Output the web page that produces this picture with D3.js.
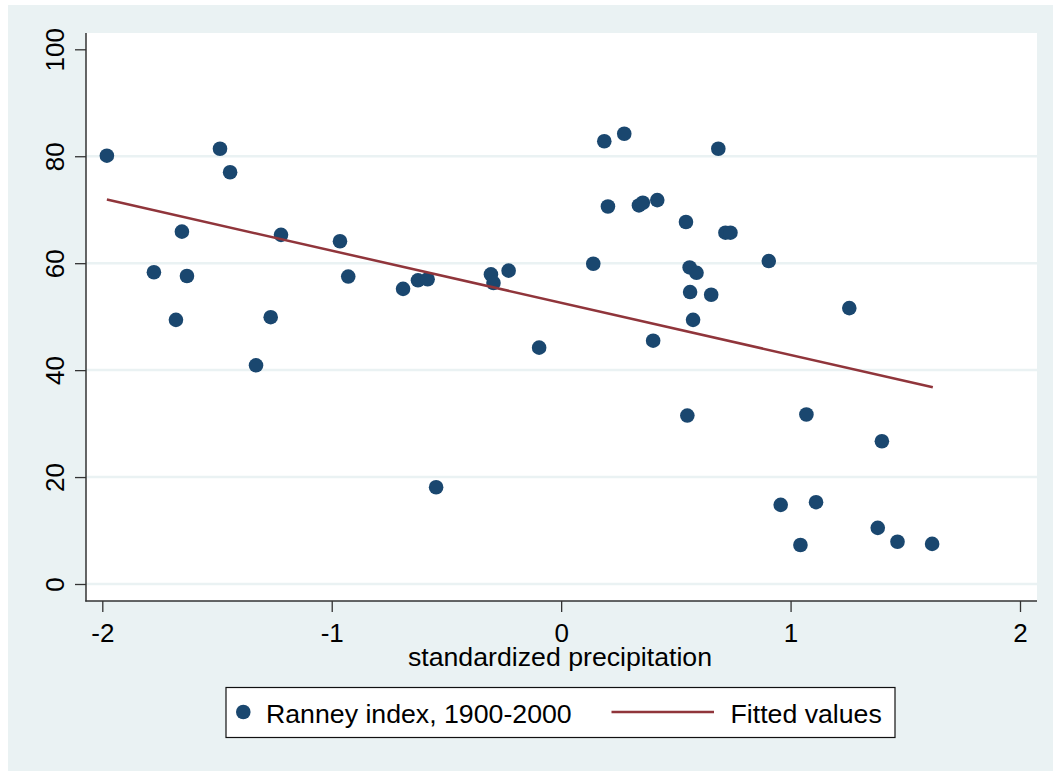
<!DOCTYPE html>
<html>
<head>
<meta charset="utf-8">
<script src="https://cdn.jsdelivr.net/npm/d3@7"></script>
<style>
  html, body { margin: 0; padding: 0; background: #ffffff; }
  svg { display: block; }
  text { font-family: "Liberation Sans", Arial, sans-serif; fill: #000; }
</style>
</head>
<body>
<svg id="chart" width="1053" height="771"></svg>
<script>
// ---- data ----
const precip = [
  -1.980, -1.775, -1.653, -1.631, -1.679, -1.487, -1.443, -1.330, -1.266, -1.221,
  -0.964, -0.928, -0.689, -0.624, -0.582, -0.545, -0.306, -0.295, -0.229, -0.096,
   0.140,  0.188,  0.204,  0.275,  0.339,  0.356,  0.419,  0.401,  0.544,  0.550,
   0.560,  0.562,  0.575,  0.590,  0.654,  0.685,  0.716,  0.738,  0.905,  0.957,
   1.043,  1.069,  1.111,  1.256,  1.380,  1.398,  1.466,  1.617
];
const ranney = [
  80.1, 58.3, 65.9, 57.6, 49.4, 81.4, 77.0, 40.9, 49.9, 65.3,
  64.1, 57.5, 55.2, 56.8, 57.0, 18.1, 57.9, 56.3, 58.6, 44.2,
  59.9, 82.8, 70.6, 84.2, 70.8, 71.3, 71.8, 45.5, 67.7, 31.5,
  59.2, 54.6, 49.4, 58.2, 54.1, 81.4, 65.7, 65.7, 60.4, 14.8,
   7.3, 31.7, 15.3, 51.6, 10.5, 26.7,  7.9,  7.5
];
const fitX = [-1.980, 1.620];
const fitY = [71.9, 36.8];
const xTicks = [-2, -1, 0, 1, 2];
const yTicks = [0, 20, 40, 60, 80, 100];
const yGrid = [0, 20, 40, 60, 80];
const xTitle = "standardized precipitation";
const legendLabels = ["Ranney index, 1900-2000", "Fitted values"];

// ---- layout ----
const W = 1053, H = 771;
const plot = { left: 86, right: 1037, top: 33, bottom: 601 };
const markerColor = "#1a476f";
const lineColor = "#90353b";
const bgColor = "#eaf2f3";
const axisColor = "#333333";

const svg = d3.select("#chart");

const x = d3.scaleLinear().domain([-2, 2]).range([102.3, 1020]);
const y = d3.scaleLinear().domain([0, 100]).range([584, 49.3]);

// outer background
svg.append("rect").attr("x", 8).attr("y", 5).attr("width", W - 8).attr("height", H - 5).attr("fill", bgColor);

// plot region
svg.append("rect")
  .attr("x", plot.left).attr("y", plot.top)
  .attr("width", plot.right - plot.left).attr("height", plot.bottom - plot.top)
  .attr("fill", "#ffffff");

// gridlines
svg.append("g").selectAll("line").data(yGrid).join("line")
  .attr("x1", plot.left).attr("x2", plot.right)
  .attr("y1", d => y(d)).attr("y2", d => y(d))
  .attr("stroke", bgColor).attr("stroke-width", 2.5);

// y axis
const yAxis = d3.axisLeft(y).tickValues(yTicks).tickSize(11).tickPadding(0).tickFormat(d3.format("d"));
const gy = svg.append("g").attr("transform", `translate(${plot.left},0)`).call(yAxis);
gy.select(".domain").remove();
gy.selectAll(".tick line").attr("stroke", axisColor).attr("stroke-width", 1.3);
gy.selectAll(".tick text").remove();
gy.selectAll(".tick").append("text")
  .attr("transform", "translate(-22,0) rotate(-90)")
  .attr("text-anchor", "middle")
  .attr("font-size", 26)
  .attr("fill", "#000")
  .text(d => d);
svg.append("line").attr("x1", plot.left).attr("x2", plot.left)
  .attr("y1", plot.top).attr("y2", plot.bottom + 0.5)
  .attr("stroke", axisColor).attr("stroke-width", 1.5);

// x axis
const xAxis = d3.axisBottom(x).tickValues(xTicks).tickSize(11).tickPadding(0).tickFormat(d3.format("d"));
const gx = svg.append("g").attr("transform", `translate(0,${plot.bottom})`).call(xAxis);
gx.select(".domain").remove();
gx.selectAll(".tick line").attr("stroke", axisColor).attr("stroke-width", 1.3);
gx.selectAll(".tick text").remove();
gx.selectAll(".tick").append("text")
  .attr("y", 40.5)
  .attr("text-anchor", "middle")
  .attr("font-size", 26)
  .attr("fill", "#000")
  .text(d => d3.format("d")(d).replace("−", "-"));
svg.append("line").attr("x1", plot.left - 0.75).attr("x2", plot.right)
  .attr("y1", plot.bottom).attr("y2", plot.bottom)
  .attr("stroke", axisColor).attr("stroke-width", 1.5);

// x title
svg.append("text")
  .attr("x", (plot.left + plot.right) / 2 - 1.5).attr("y", 665.5)
  .attr("text-anchor", "middle").attr("font-size", 26.7)
  .text(xTitle);

// scatter points
const pts = precip.map((p, i) => ({ p, r: ranney[i] }));
svg.append("g").selectAll("circle").data(pts).join("circle")
  .attr("cx", d => x(d.p)).attr("cy", d => y(d.r)).attr("r", 7.3)
  .attr("fill", markerColor);

// fitted line
const fit = fitX.map((v, i) => [v, fitY[i]]);
svg.append("path")
  .datum(fit)
  .attr("d", d3.line().x(d => x(d[0])).y(d => y(d[1])))
  .attr("fill", "none").attr("stroke", lineColor).attr("stroke-width", 2.5);

// legend
const leg = svg.append("g");
leg.append("rect").attr("x", 226).attr("y", 687.5).attr("width", 669).attr("height", 50)
  .attr("fill", "#ffffff").attr("stroke", "#111").attr("stroke-width", 1.2);
leg.append("circle").attr("cx", 243.3).attr("cy", 712).attr("r", 7.3).attr("fill", markerColor);
leg.append("text").attr("x", 266).attr("y", 722.5).attr("font-size", 26.7).text(legendLabels[0]);
leg.append("line").attr("x1", 611.5).attr("x2", 714).attr("y1", 712).attr("y2", 712)
  .attr("stroke", lineColor).attr("stroke-width", 2.5);
leg.append("text").attr("x", 730.5).attr("y", 722.5).attr("font-size", 26.7).text(legendLabels[1]);
</script>
</body>
</html>
